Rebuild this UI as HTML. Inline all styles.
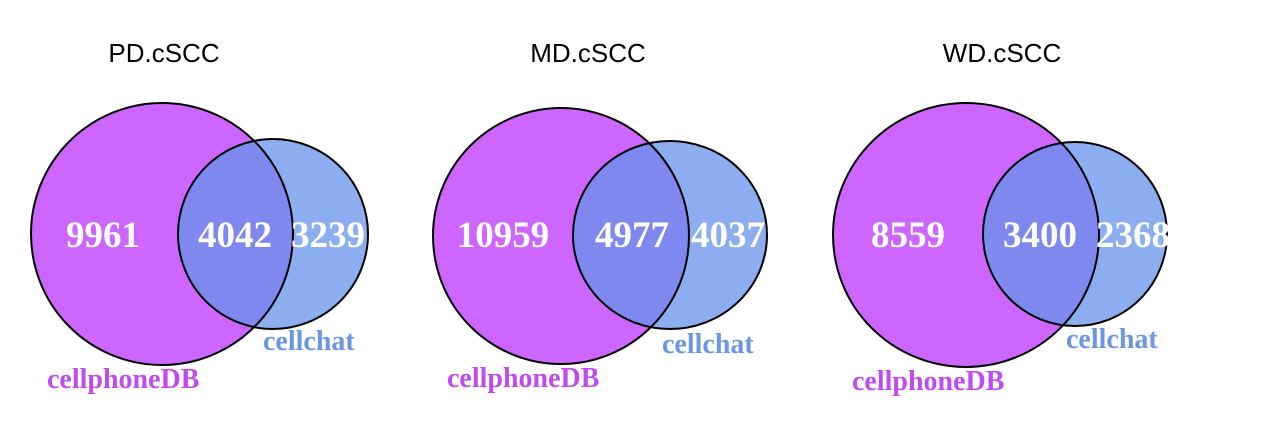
<!DOCTYPE html>
<html><head><meta charset="utf-8"><style>
html,body{margin:0;padding:0;background:#fff;}
svg{display:block;}
</style></head><body>
<svg id="chart" width="1269" height="440" viewBox="0 0 1269 440" xmlns="http://www.w3.org/2000/svg"></svg>
<script>
const titles = ["PD.cSCC", "MD.cSCC", "WD.cSCC"];
const onlyCellphone = [9961, 10959, 8559];
const shared = [4042, 4977, 3400];
const onlyCellchat = [3239, 4037, 2368];

// layout (pixel geometry, not data)
const layout = [
  {big:[162,234,131,131], small:[273,234,95,95], title:164, n:[103,235,328], cc:[263,350], cp:[47,388]},
  {big:[561,236,128,128], small:[670,235,97,94], title:588, n:[503,632,728], cc:[662,353], cp:[447,387]},
  {big:[966,235,133,132], small:[1075,234,92,92], title:1002, n:[908,1040,1133], cc:[1066,348], cp:[852,390]}
];
const NS = "http://www.w3.org/2000/svg";
const svg = document.getElementById("chart");
function mk(tag, attrs, parent){const e=document.createElementNS(NS,tag);for(const k in attrs)e.setAttribute(k,attrs[k]);(parent||svg).appendChild(e);return e;}
const defs = mk("defs",{});
titles.forEach((t,i)=>{
  const L = layout[i];
  const g = mk("g",{});
  
  
  const cp = mk("clipPath",{id:"clip"+i},defs);
  mk("ellipse",{cx:L.big[0],cy:L.big[1],rx:L.big[2],ry:L.big[3]},cp);
  const big = mk("ellipse",{cx:L.big[0],cy:L.big[1],rx:L.big[2],ry:L.big[3],fill:"#cc66ff"},g);
  
  
  const sm = mk("ellipse",{cx:L.small[0],cy:L.small[1],rx:L.small[2],ry:L.small[3],fill:"#8caef0"},g);
  
  
  const ov = mk("ellipse",{cx:L.small[0],cy:L.small[1],rx:L.small[2],ry:L.small[3],fill:"#7e88ee","clip-path":"url(#clip"+i+")"},g);
  
  
  mk("ellipse",{cx:L.big[0],cy:L.big[1],rx:L.big[2],ry:L.big[3],fill:"none",stroke:"#000","stroke-width":2},g);
  mk("ellipse",{cx:L.small[0],cy:L.small[1],rx:L.small[2],ry:L.small[3],fill:"none",stroke:"#000","stroke-width":2},g);
  const tt = mk("text",{x:L.title,y:62,"text-anchor":"middle","font-family":"Liberation Sans, sans-serif","font-size":26,fill:"#000"},g);
  tt.textContent = t;
  
  
  const vals=[onlyCellphone[i],shared[i],onlyCellchat[i]];
  const names=['cellphonedb-only-count','shared-count','cellchat-only-count'];
  vals.forEach((v,j)=>{
    const tx = mk("text",{x:L.n[j],y:247,"text-anchor":"middle","font-family":"Liberation Serif, serif","font-weight":"bold","font-size":37,fill:"#fff"},g);
    tx.textContent = v;
    
    
  });
  const c1 = mk("text",{x:L.cc[0],y:L.cc[1],"font-family":"Liberation Serif, serif","font-weight":"bold","font-size":28,fill:"#6b97e2"},g);
  c1.textContent="cellchat";
  
  
  const c2 = mk("text",{x:L.cp[0],y:L.cp[1],"font-family":"Liberation Serif, serif","font-weight":"bold","font-size":28,fill:"#c04cf0"},g);
  c2.textContent="cellphoneDB";
  
  
});
</script>
</body></html>
